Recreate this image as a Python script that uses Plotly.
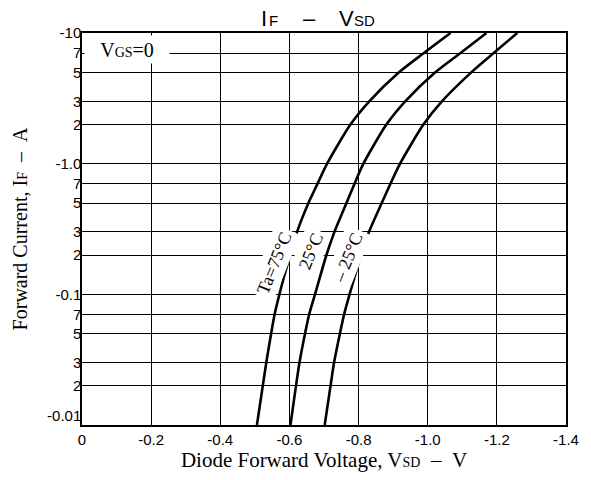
import math
import plotly.graph_objects as go

# Forward current magnitude (A); axis labels show them as negative values
current = [0.01, 0.02, 0.03, 0.05, 0.07, 0.1, 0.2, 0.3, 0.5, 0.7, 1, 2, 3, 5, 7, 10]

# Diode forward voltage magnitude (V)
vsd_75 = [0.506, 0.523, 0.533, 0.547, 0.557, 0.571, 0.602, 0.622, 0.655, 0.681,
          0.709, 0.777, 0.831, 0.917, 0.988, 1.066]
vsd_25 = [0.603, 0.619, 0.629, 0.645, 0.657, 0.674, 0.707, 0.730, 0.765, 0.788,
          0.814, 0.881, 0.935, 1.022, 1.094, 1.170]
vsd_m25 = [0.702, 0.719, 0.729, 0.746, 0.758, 0.774, 0.807, 0.830, 0.867, 0.892,
           0.920, 0.988, 1.041, 1.126, 1.190, 1.259]

y_grid = [0.01, 0.02, 0.03, 0.05, 0.07, 0.1, 0.2, 0.3, 0.5, 0.7, 1, 2, 3, 5, 7, 10]
y_labels = ["-0.01<br>\u00a0", "2", "3", "5", "7", "-0.1", "2", "3", "5", "7",
            "-1.0", "2", "3", "5", "7", "-10"]
x_ticks = [0, -0.2, -0.4, -0.6, -0.8, -1.0, -1.2, -1.4]
x_labels = ["0", "-0.2", "-0.4", "-0.6", "-0.8", "-1.0", "-1.2", "-1.4"]

curve_labels = ["Ta=75°C", "25°C", "\u2013 25°C"]
# label anchor positions (V magnitude, current)
label_v = [0.555, 0.662, 0.768]
label_i = [0.175, 0.215, 0.19]

# title pieces: (text, font size, paper x of left edge)
title_parts = [("I", 22, 0.368), ("F", 15, 0.384), ("\u2013", 22, 0.455),
               ("V", 22, 0.529), ("SD", 15, 0.560)]

SERIF = "Liberation Serif, Times New Roman, serif"
SANS = "Liberation Sans, Arial, sans-serif"
nb = "\u00a0"

fig = go.Figure()
for vs in (vsd_75, vsd_25, vsd_m25):
    fig.add_trace(go.Scatter(
        x=[-v for v in vs], y=current, mode="lines",
        line=dict(color="black", width=2.6, shape="spline", smoothing=0.7),
        showlegend=False, hoverinfo="skip"))

annotations = []
for txt, lv, li in zip(curve_labels, label_v, label_i):
    annotations.append(dict(
        x=-lv, y=math.log10(li), xref="x", yref="y", text=txt, showarrow=False,
        textangle=-68, bgcolor="white", borderpad=3,
        font=dict(family=SERIF, size=18, color="black")))

annotations.append(dict(
    x=0, y=1, xref="paper", yref="paper", xanchor="left", yanchor="top",
    xshift=2, yshift=-2, width=82, height=25,
    text="V<span style='font-size:14px'>GS</span>=0", showarrow=False,
    bgcolor="white", font=dict(family=SERIF, size=20, color="black")))

# chart title, built from pieces so the small letters sit on the baseline
for txt, size, px in title_parts:
    annotations.append(dict(
        x=px, y=1, xref="paper", yref="paper", xanchor="left", yanchor="bottom",
        yshift=1 if size > 20 else 3, showarrow=False, text=txt, borderpad=0,
        font=dict(family=SANS, size=size, color="black")))

fig.update_layout(
    width=583, height=472,
    margin=dict(l=74, r=25, t=25, b=55),
    paper_bgcolor="white", plot_bgcolor="white",
    xaxis=dict(
        range=[0, -1.4], tickvals=x_ticks, ticktext=x_labels, automargin=False,
        showgrid=True, gridcolor="black", gridwidth=1, zeroline=False,
        showline=True, linecolor="black", linewidth=1.5, mirror=True,
        ticks="", ticklen=0,
        tickfont=dict(family=SANS, size=15, color="black"),
        title=dict(text="Diode Forward Voltage, V<span style='font-size:14px'>SD</span>" + nb * 2 + "\u2013" + nb * 2 + "V",
                   font=dict(family=SERIF, size=21, color="black"), standoff=5)),
    yaxis=dict(
        type="log", range=[-2, 1], tickvals=y_grid, ticktext=y_labels, automargin=False,
        showgrid=True, gridcolor="black", gridwidth=1, zeroline=False,
        showline=True, linecolor="black", linewidth=1.5, mirror=True,
        ticks="", ticklen=0, ticklabelstandoff=-4,
        tickfont=dict(family=SANS, size=15, color="black"),
        title=dict(text="Forward Current, I<span style='font-size:14px'>F</span>" + nb * 2 + "\u2013" + nb * 2 + "A",
                   font=dict(family=SERIF, size=20, color="black"), standoff=14)),
    annotations=annotations,
)

fig.write_html("out.html")
